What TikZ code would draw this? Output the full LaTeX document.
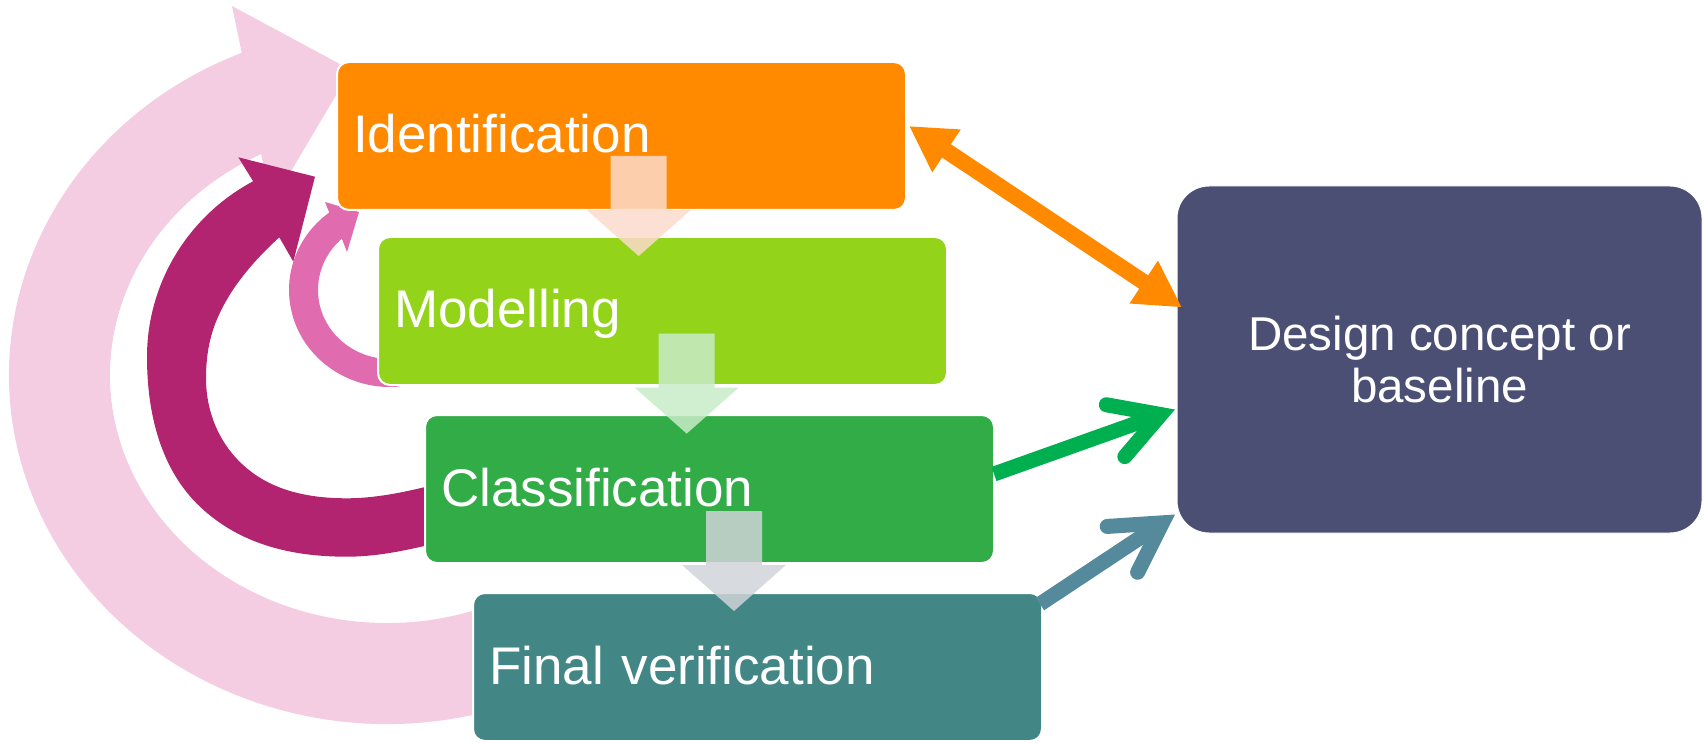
\documentclass[tikz,border=0pt]{standalone}
\usepackage{fontspec}
\setmainfont{Liberation Sans}
\usetikzlibrary{arrows.meta,calc}

\definecolor{pinkLight}{RGB}{244,205,227}
\definecolor{magentaDeep}{RGB}{178,36,112}
\definecolor{pinkMid}{RGB}{224,107,174}
\definecolor{stageOrange}{RGB}{255,138,0}
\definecolor{stageLime}{RGB}{147,212,27}
\definecolor{stageGreen}{RGB}{50,172,71}
\definecolor{stageTeal}{RGB}{66,135,134}
\definecolor{designNavy}{RGB}{75,79,115}
\definecolor{linkGreen}{RGB}{0,176,80}
\definecolor{linkTeal}{RGB}{84,138,155}
\definecolor{flowPeach}{RGB}{252,219,203}
\definecolor{flowMint}{RGB}{200,236,200}
\definecolor{flowGrey}{RGB}{208,211,216}

% translucent block arrow pointing down, top centre at (#2,#3)
\newcommand{\flowdown}[3]{%
  \fill[#1, fill opacity=0.85, shift={(#2,#3)}]
    (-28,0) -- (28,0) -- (28,54) -- (52,54) -- (0,100) -- (-52,54) -- (-28,54) -- cycle;}

\begin{document}
\begin{tikzpicture}[x=1pt,y=-1pt,
  stage/.style={draw=white, line width=2pt, rounded corners=12pt, text=white,
    anchor=north west, outer sep=0pt, inner xsep=16pt, inner ysep=0pt,
    text width=537pt, align=left, minimum height=148pt,
    text height=38pt, text depth=4pt, font=\fontsize{53pt}{60pt}\selectfont},
  target/.style={draw=white, line width=1pt, rounded corners=32pt, text=white,
    anchor=north west, outer sep=0pt, minimum width=525pt, minimum height=347pt,
    align=center, font=\fontsize{47.5pt}{52pt}\selectfont},
  twoway/.style={draw=stageOrange, line width=16pt,
    arrows={Triangle[length=45pt,width=48pt]-Triangle[length=46pt,width=48pt]}},
  feed/.style={line width=15pt,
    arrows={-Straight Barb[length=48pt,width=55pt,line cap=round,line join=miter]}}]

\useasboundingbox (0,0) rectangle (1706,743);

% outer feedback loop: final verification back to identification
\fill[pinkLight] ($(387,375)+(70:378 and 349)$)
  arc[start angle=70, end angle=247.4, x radius=378, y radius=349]
  -- (232,6) -- (351,70) -- (271,205)
  -- ($(387,375)+(243:277 and 248)$)
  arc[start angle=243, end angle=70, x radius=277, y radius=248] -- cycle;

% middle loop: classification back to identification
\fill[magentaDeep]
  (445,541) .. controls (413,549) and (379.7,556.7) .. (346.7,556.7)
  .. controls (291.7,556.7) and (240,544.5) .. (200,506.7)
  .. controls (160,468.9) and (147,412) .. (147,357)
  arc[start angle=180, end angle=241.5, x radius=203, y radius=200]
  -- (238.3,157.3) -- (315,176.7) -- (293.3,261.7) -- (279.3,237.3)
  .. controls (253.5,261) and (230.2,287.7) .. (216.7,320)
  .. controls (209,338.4) and (206,358) .. (206,378)
  .. controls (206,416) and (222.5,451.1) .. (253.3,473.3)
  .. controls (280.1,492.6) and (313.7,498.3) .. (346.7,498.3)
  .. controls (379.7,498.3) and (413,490.3) .. (445,482)
  -- cycle;

% inner loop: modelling back to identification
\fill[pinkMid] ($(390,290)+(85:101 and 97)$)
  arc[start angle=85, end angle=233, x radius=101, y radius=97]
  -- (325,202) -- (359,212) -- (347,252)
  -- ($(390,290)+(228:72 and 69)$)
  arc[start angle=228, end angle=85, x radius=72, y radius=69] -- cycle;

% process stages
\node[stage, fill=stageOrange] (ident) at (337,62) {Identification};
\node[stage, fill=stageLime]   (model) at (378,237) {Modelling};
\node[stage, fill=stageGreen]  (class) at (425,415) {Classification};
\node[stage, fill=stageTeal]   (final) at (473,593) {Final verification};
\node[target, fill=designNavy] (design) at (1177,186) {Design concept or\\baseline};

% flow between stages
\flowdown{flowPeach}{638.7}{156}
\flowdown{flowMint}{686.7}{333.6}
\flowdown{flowGrey}{734}{511}

% links to the design concept
\draw[twoway] ([xshift=3pt,yshift=10pt]ident.east) -- ([xshift=5pt,yshift=52pt]design.west);
\draw[feed, draw=linkGreen] ([yshift=15pt]class.east) -- ([xshift=-2pt,yshift=-50pt]design.west);
\draw[feed, draw=linkTeal] ([xshift=-2pt,yshift=-11pt]final.north east) -- ([xshift=-2pt,yshift=-155pt]design.west);

\end{tikzpicture}
\end{document}
